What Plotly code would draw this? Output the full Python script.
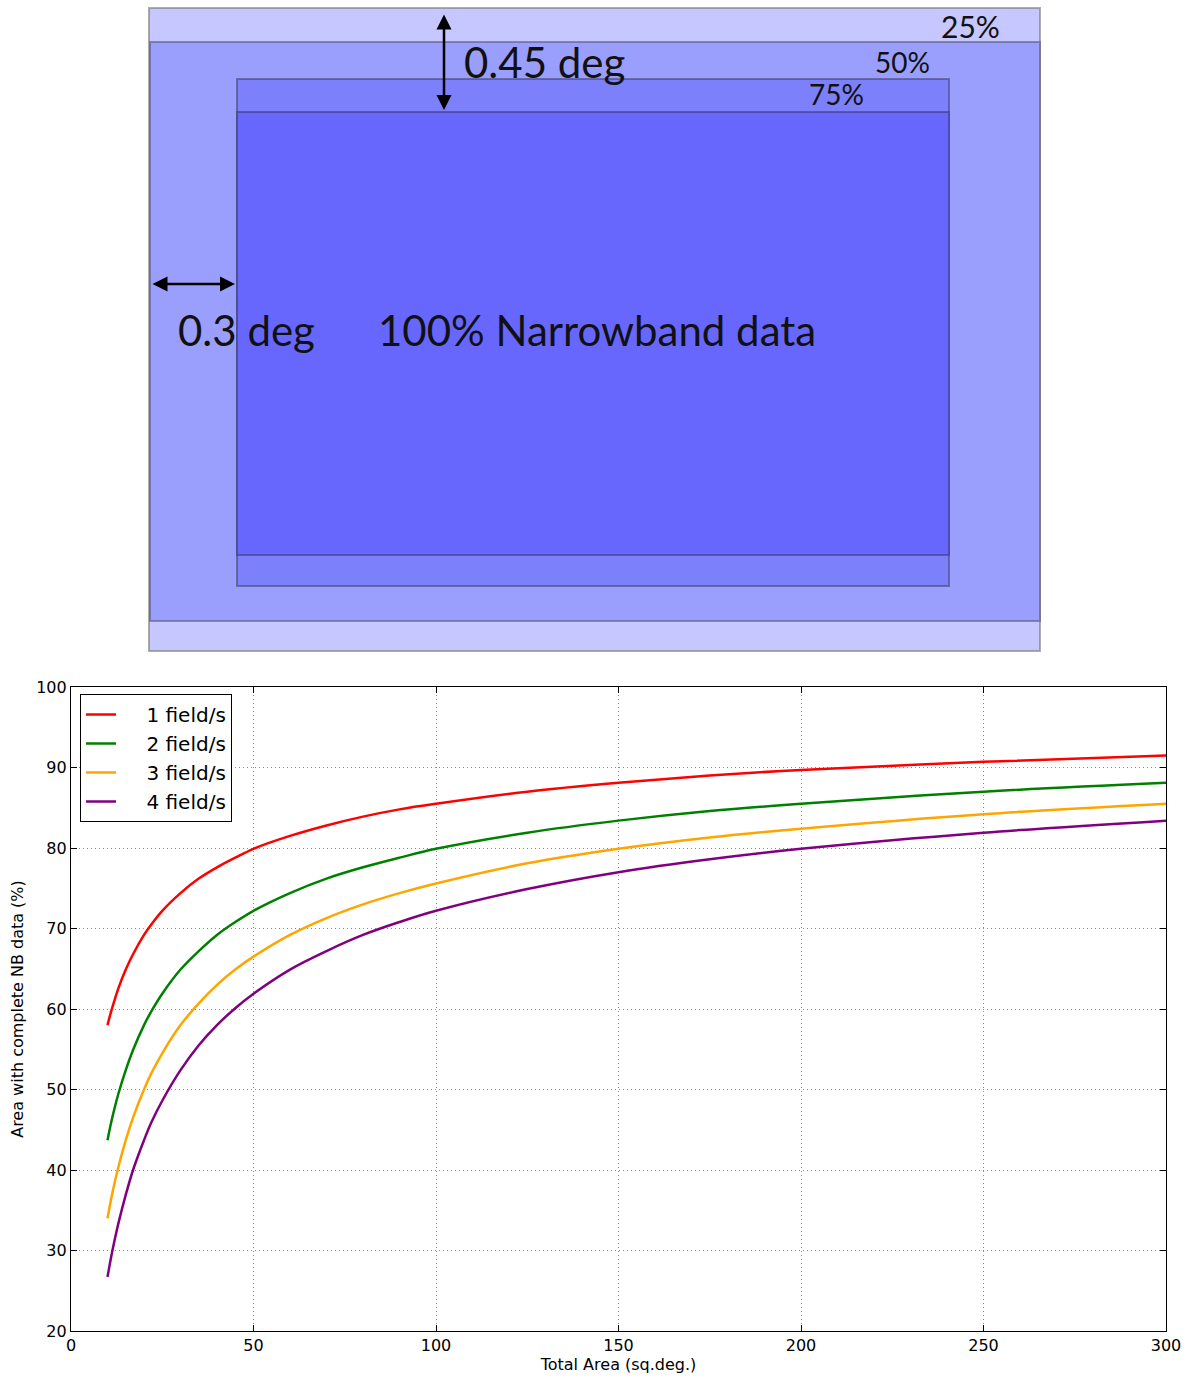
import plotly.graph_objects as go

# ---------------- data ----------------
total_area = [10, 11, 12, 13, 15, 17, 20, 22, 25, 30, 35, 40, 45, 50, 60, 70, 80, 90, 100, 125, 150, 175, 200, 250, 300]
one_field = [58.0, 59.7, 61.2, 62.6, 64.9, 66.8, 69.2, 70.5, 72.2, 74.4, 76.2, 77.6, 78.8, 79.9, 81.5, 82.8, 83.9, 84.8, 85.5, 87.0, 88.1, 89.0, 89.7, 90.7, 91.5]
two_fields = [43.7, 45.9, 47.8, 49.5, 52.4, 54.9, 58.0, 59.7, 61.9, 64.9, 67.2, 69.2, 70.8, 72.2, 74.4, 76.2, 77.6, 78.8, 79.9, 81.9, 83.4, 84.6, 85.5, 87.0, 88.1]
three_fields = [34.0, 36.4, 38.5, 40.4, 43.7, 46.5, 50.0, 52.0, 54.5, 58.0, 60.7, 63.0, 64.9, 66.5, 69.2, 71.3, 73.0, 74.4, 75.6, 78.1, 79.9, 81.3, 82.4, 84.2, 85.5]
four_fields = [26.7, 29.2, 31.4, 33.4, 36.9, 40.0, 43.7, 45.9, 48.6, 52.4, 55.5, 58.0, 60.1, 61.9, 64.9, 67.2, 69.2, 70.8, 72.2, 74.9, 77.0, 78.6, 79.9, 81.9, 83.4]
series_names = ["1 field/s", "2 field/s", "3 field/s", "4 field/s"]
x_ticks = [0, 50, 100, 150, 200, 250, 300]
y_ticks = [20, 30, 40, 50, 60, 70, 80, 90, 100]

coverage_labels = ["25%", "50%", "75%", "100% Narrowband data"]
offset_labels = ["0.45 deg", "0.3 deg"]

# ---------------- styling ----------------
W, H = 1188, 1378
series_colors = ["#ff0000", "#008000", "#ffa500", "#800080"]

fig = go.Figure()
for name, ys, col in zip(series_names, [one_field, two_fields, three_fields, four_fields], series_colors):
    fig.add_trace(go.Scatter(x=total_area, y=ys, mode="lines", name="\u00a0\u00a0\u00a0\u00a0" + name,
                             line=dict(color=col, width=2.5, shape="spline", smoothing=1.0),
                             xaxis="x", yaxis="y"))

# invisible trace to create the diagram axes
fig.add_trace(go.Scatter(x=[600], y=[300], mode="markers", marker=dict(opacity=0),
                         showlegend=False, hoverinfo="skip", xaxis="x2", yaxis="y2"))

# ---------------- diagram (pixel coordinate axes) ----------------
rects = [
    (149, 8, 1040, 651, "#c5c7fe", "rgba(120,120,120,0.6)"),
    (150, 42, 1040, 621, "#9a9efd", "rgba(90,90,120,0.6)"),
    (237, 79, 949, 586, "#7c80fb", "rgba(70,70,120,0.6)"),
    (237, 112, 949, 555, "#6767fe", "rgba(60,60,120,0.6)"),
]
shapes = []
for x0, y0, x1, y1, fc, lc in rects:
    shapes.append(dict(type="rect", xref="x2", yref="y2", x0=x0, y0=y0, x1=x1, y1=y1,
                       fillcolor=fc, line=dict(color=lc, width=2), layer="below"))

annotations = []
annotations.append(dict(xref="x2", yref="y2", axref="x2", ayref="y2", x=444, y=110, ax=444, ay=13,
                        text="", showarrow=True, arrowhead=2, arrowside="end+start",
                        arrowsize=1.2, arrowwidth=2.5, arrowcolor="black"))
annotations.append(dict(xref="x2", yref="y2", axref="x2", ayref="y2", x=235, y=284, ax=151, ay=284,
                        text="", showarrow=True, arrowhead=2, arrowside="end+start",
                        arrowsize=1.2, arrowwidth=2.5, arrowcolor="black"))

dfont = "Lato, 'Open Sans', sans-serif"
annotations.append(dict(xref="x2", yref="y2", x=462, y=62, xanchor="left", yanchor="middle",
                        text=offset_labels[0], showarrow=False,
                        font=dict(family=dfont, size=42, color="#111")))
annotations.append(dict(xref="x2", yref="y2", x=176, y=330, xanchor="left", yanchor="middle",
                        text=offset_labels[1], showarrow=False,
                        font=dict(family=dfont, size=42, color="#111")))
annotations.append(dict(xref="x2", yref="y2", x=376, y=330, xanchor="left", yanchor="middle",
                        text=coverage_labels[3], showarrow=False,
                        font=dict(family=dfont, size=42, color="#111")))
annotations.append(dict(xref="x2", yref="y2", x=970, y=26, xanchor="center", yanchor="middle",
                        text=coverage_labels[0], showarrow=False,
                        font=dict(family=dfont, size=30, color="#111")))
annotations.append(dict(xref="x2", yref="y2", x=902, y=62, xanchor="center", yanchor="middle",
                        text=coverage_labels[1], showarrow=False,
                        font=dict(family=dfont, size=28, color="#111")))
annotations.append(dict(xref="x2", yref="y2", x=836, y=94, xanchor="center", yanchor="middle",
                        text=coverage_labels[2], showarrow=False,
                        font=dict(family=dfont, size=28, color="#111")))

# ---------------- layout ----------------
x0p, x1p = 71, 1166
y0p, y1p = 687, 1331
mfont = "DejaVu Sans, sans-serif"

axis_common = dict(showline=True, linecolor="black", linewidth=1.2, mirror="ticks",
                   ticks="inside", ticklen=6, tickcolor="black", tickwidth=1,
                   showgrid=True, gridcolor="#8c8c8c", griddash="1px,3px", gridwidth=1,
                   zeroline=False, automargin=False,
                   tickfont=dict(family=mfont, size=16, color="black"))

fig.update_layout(
    width=W, height=H,
    margin=dict(l=0, r=0, t=0, b=0, autoexpand=False),
    paper_bgcolor="white", plot_bgcolor="white",
    xaxis=dict(domain=[x0p / W, x1p / W], range=[0, 300], tickvals=x_ticks,
               title=dict(text="Total Area (sq.deg.)", font=dict(family=mfont, size=16, color="black"), standoff=4),
               anchor="y", **axis_common),
    yaxis=dict(domain=[(H - y1p) / H, (H - y0p) / H], range=[20, 100], tickvals=y_ticks,
               title=dict(text="Area with complete NB data (%)", font=dict(family=mfont, size=16, color="black"), standoff=8),
               anchor="x", **axis_common),
    xaxis2=dict(domain=[0, 1], range=[0, W], visible=False, fixedrange=True, anchor="y2", automargin=False),
    yaxis2=dict(domain=[(H - 660) / H, 1], range=[660, 0], visible=False, fixedrange=True, anchor="x2", automargin=False),
    showlegend=True,
    legend=dict(x=80 / W, y=(H - 694) / H, xanchor="left", yanchor="top",
                bgcolor="white", bordercolor="black", borderwidth=1,
                font=dict(family=mfont, size=20, color="black"),
                itemwidth=30, tracegroupgap=0),
    shapes=shapes,
    annotations=annotations,
)

fig.write_html("out.html")
